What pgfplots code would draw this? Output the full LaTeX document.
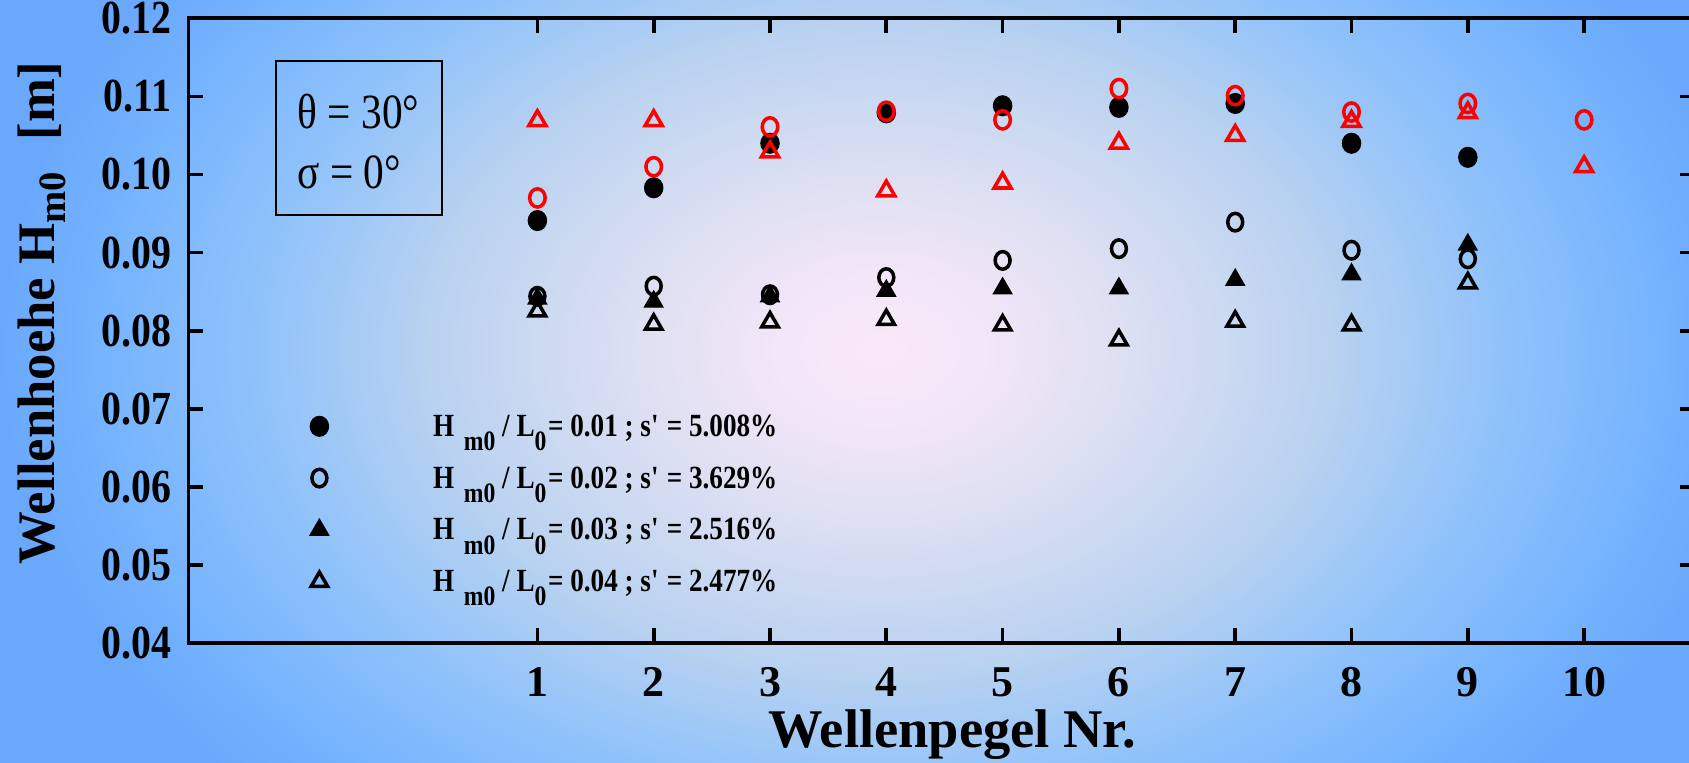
\documentclass[border=0pt]{standalone}
\usepackage{fontspec}
\setmainfont{Liberation Serif}
\newfontfamily\narrowserif{Liberation Serif}[FakeStretch=0.84]
\usepackage{pgfplots}
\usepackage{pgfplotstable}
\pgfplotsset{compat=1.18}

% backdrop colours, from the light centre to the blue rim
% (the path's box is fitted to the inner 50bp of the shading)
\definecolor{bgA}{RGB}{251,232,250}
\definecolor{bgB}{RGB}{242,230,248}
\definecolor{bgC}{RGB}{222,224,242}
\definecolor{bgD}{RGB}{185,210,240}
\definecolor{bgE}{RGB}{145,195,250}
\definecolor{bgF}{RGB}{118,180,254}
\definecolor{bgG}{RGB}{106,168,252}
\pgfdeclareradialshading{backdrop}{\pgfpointorigin}{%
  color(0bp)=(bgA); color(3bp)=(bgB); color(6.75bp)=(bgC);
  color(12.75bp)=(bgD); color(17.5bp)=(bgE); color(22bp)=(bgF);
  color(25bp)=(bgG); color(50bp)=(bgG)}

% H_m0 per wave gauge
\pgfplotstableread{
x y
1 0.0941
2 0.0983
3 0.1040
4 0.1079
5 0.1088
6 0.1086
7 0.1091
8 0.1040
9 0.1022
}\steepA
\pgfplotstableread{
x y
1 0.0844
2 0.0857
3 0.0846
4 0.0868
5 0.0890
6 0.0905
7 0.0939
8 0.0903
9 0.0892
}\steepB
\pgfplotstableread{
x y
1 0.0841
2 0.0837
3 0.0844
4 0.0851
5 0.0854
6 0.0854
7 0.0865
8 0.0872
9 0.0910
}\steepC
\pgfplotstableread{
x y
1 0.0825
2 0.0808
3 0.0811
4 0.0814
5 0.0807
6 0.0788
7 0.0812
8 0.0807
9 0.0861
}\steepD
\pgfplotstableread{
x y
1 0.0970
2 0.1010
3 0.1061
4 0.1081
5 0.1070
6 0.1110
7 0.1101
8 0.1080
9 0.1091
10 0.1070
}\redCirc
\pgfplotstableread{
x y
1 0.1069
2 0.1069
3 0.1029
4 0.0979
5 0.0989
6 0.1040
7 0.1050
8 0.1068
9 0.1079
10 0.1010
}\redTri

\newcommand{\lowsub}[1]{\raisebox{-0.95ex}{\fontsize{8}{9}\selectfont #1}}
\newcommand{\legtxt}[2]{H\hspace{0.3em}\lowsub{m0} / L\lowsub{0}\hspace{0.05em}= #1 ; s\textquotesingle{} = #2\%}

\begin{document}
\begin{tikzpicture}
\useasboundingbox (-1.885,-1.19) rectangle (15.005,6.43);
\begin{scope}
  \clip (-1.885,-1.19) rectangle (15.005,6.43);
  \shade[shading=backdrop] (-1.885,-3.36) rectangle (15.715,9.22);
\end{scope}
\begin{axis}[
  at={(0,0)}, anchor=south west,
  scale only axis, width=15.061cm, height=6.247cm,
  xmin=-2, xmax=10.95, ymin=0.04, ymax=0.12,
  xtick={1,2,3,4,5,6,7,8,9,10},
  xticklabels={1,2,3,4,5,6,7,8,9,10},
  ytick={0.04,0.05,0.06,0.07,0.08,0.09,0.10,0.11,0.12},
  yticklabels={0.04,0.05,0.06,0.07,0.08,0.09,0.10,0.11,0.12},
  tick align=inside, tick pos=both, major tick length=0.15cm,
  axis line style={line width=1.05pt},
  every tick/.style={black, line width=1.05pt},
  yticklabel style={font=\narrowserif\bfseries\fontsize{13.5}{15}\selectfont,
    xshift=-0.05cm},
  xticklabel style={font=\bfseries\fontsize{12.5}{14}\selectfont,
    yshift=-0.12cm},
  xlabel={Wellenpegel Nr.},
  ylabel={Wellenhoehe H\raisebox{-0.45ex}{\fontsize{11}{13}\selectfont m0}\hspace{0.6em}[m]},
  xlabel style={font=\bfseries\fontsize{15.5}{18}\selectfont,
    at={(rel axis cs:0.507,-0.168)}, anchor=base},
  ylabel style={font=\bfseries\fontsize{15}{18}\selectfont,
    at={(rel axis cs:-0.0975,0.528)}, anchor=center},
  clip=false,
  legend cell align=left,
  legend style={at={(axis cs:-0.9725,0.0693)}, anchor=north west,
    draw=none, fill=none, inner sep=0pt, row sep=0.25cm, column sep=0pt,
    nodes={inner sep=0pt},
    font=\narrowserif\bfseries\fontsize{9.2}{11}\selectfont},
  legend image code/.code={
    \path (0cm,0cm) (1.23cm,0cm);
    \draw[#1] plot coordinates {(0.1cm,0.02cm)};
  },
]
\addplot[only marks, black, mark=*, mark size=2.8pt,
  mark options={fill=black, xscale=0.92}] table {\steepA};
\addlegendentry{\legtxt{0.01}{5.008}}
\addplot[only marks, black, mark=o, mark size=2.5pt,
  mark options={line width=1pt, xscale=0.85}] table {\steepB};
\addlegendentry{\legtxt{0.02}{3.629}}
\addplot[only marks, black, mark=triangle*, mark size=3pt,
  mark options={fill=black}] table {\steepC};
\addlegendentry{\legtxt{0.03}{2.516}}
\addplot[only marks, black, mark=triangle, mark size=2.7pt,
  mark options={line width=1pt}] table {\steepD};
\addlegendentry{\legtxt{0.04}{2.477}}
\addplot[only marks, red, mark=o, mark size=2.6pt, forget plot,
  mark options={line width=1pt, xscale=0.85}] table {\redCirc};
\addplot[only marks, red, mark=triangle, mark size=2.8pt, forget plot,
  mark options={line width=1pt}] table {\redTri};

% angle box
\draw[line width=0.8pt] (axis cs:-1.248,0.11453) rectangle (axis cs:0.18,0.09481);
\node[anchor=west, inner sep=0pt, font=\narrowserif\fontsize{14}{16}\selectfont]
  at (axis cs:-1.067,0.1080) {θ = 30°};
\node[anchor=west, inner sep=0pt, font=\narrowserif\fontsize{14}{16}\selectfont]
  at (axis cs:-1.067,0.10027) {σ = 0°};
\end{axis}
\end{tikzpicture}
\end{document}
